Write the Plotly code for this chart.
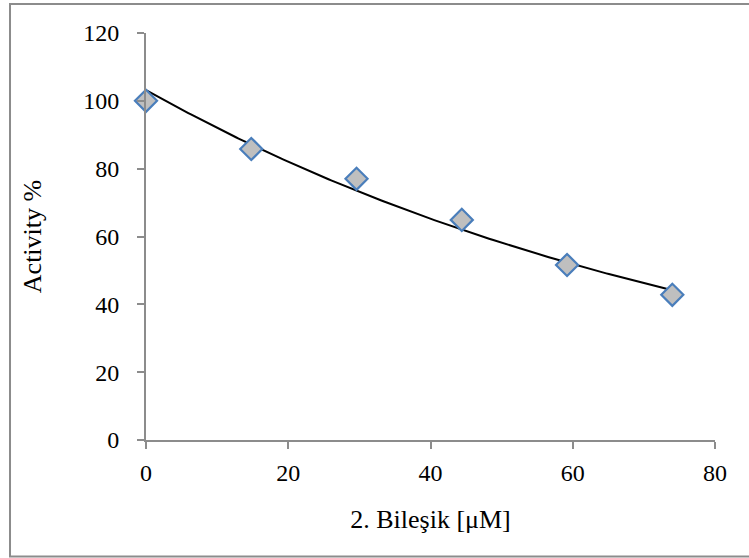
import numpy as np
import plotly.graph_objects as go

x_vals = [0, 14.8, 29.6, 44.4, 59.2, 74]
y_vals = [100, 85.8, 77, 64.9, 51.6, 42.8]
x_ticks = [0, 20, 40, 60, 80]
y_ticks = [0, 20, 40, 60, 80, 100, 120]

# exponential trendline (least squares on log values, like Excel)
b, ln_a = np.polyfit(x_vals, np.log(y_vals), 1)
xt = np.linspace(min(x_vals), max(x_vals), 200)
yt = np.exp(ln_a) * np.exp(b * xt)

font = dict(family="Liberation Serif, Times New Roman, serif", size=24, color="black")
title_font = dict(family="Liberation Serif, Times New Roman, serif", size=26, color="black")
axis_color = "#8c8c8c"

fig = go.Figure()
fig.add_trace(go.Scatter(x=xt, y=yt, mode="lines", line=dict(color="black", width=2),
                         hoverinfo="skip", showlegend=False, cliponaxis=False))
fig.add_trace(go.Scatter(x=x_vals, y=y_vals, mode="markers", cliponaxis=False,
                         marker=dict(symbol="diamond", size=17, color="#bfbfbf",
                                     line=dict(color="#4a7ebb", width=2.2)),
                         showlegend=False))

fig.update_layout(
    width=749, height=558,
    margin=dict(l=146, r=34, t=33, b=118),
    paper_bgcolor="white", plot_bgcolor="white",
    font=font,
    xaxis=dict(range=[0, 80], tickvals=x_ticks, showgrid=False, zeroline=False,
               showline=True, linecolor=axis_color, linewidth=2,
               ticks="outside", ticklen=7, tickwidth=2, tickcolor=axis_color,
               ticklabelstandoff=3,
               title=dict(text="2. Bileşik [μM]", standoff=25, font=title_font),
               automargin=False),
    yaxis=dict(range=[0, 120], tickvals=y_ticks, showgrid=False, zeroline=False,
               showline=True, linecolor=axis_color, linewidth=2,
               ticks="outside", ticklen=7, tickwidth=2, tickcolor=axis_color,
               ticklabelstandoff=13,
               title=dict(text="Activity %", standoff=34, font=title_font),
               automargin=False),
    shapes=[dict(type="rect", xref="paper", yref="paper",
                 x0=-0.239, x1=1.07, y0=-0.286, y1=1.071,
                 line=dict(color=axis_color, width=2), fillcolor="rgba(0,0,0,0)")],
)

fig.write_html("out.html", config={"displayModeBar": False},
               post_script="document.body.style.margin='0';document.body.style.overflow='hidden';")
